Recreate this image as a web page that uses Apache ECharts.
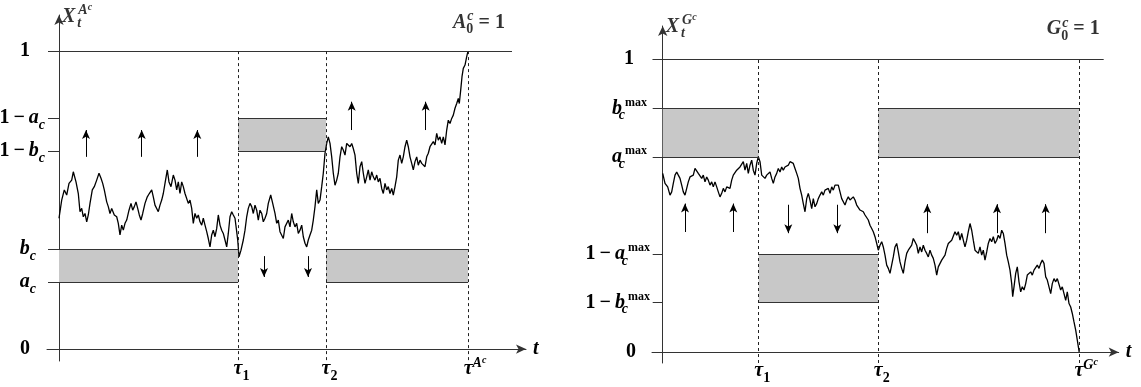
<!DOCTYPE html>
<html>
<head>
<meta charset="utf-8">
<script src="https://cdn.jsdelivr.net/npm/echarts@6/dist/echarts.min.js"></script>
<style>html,body{margin:0;background:#fff}#main{width:1141px;height:387px}</style>
</head>
<body>
<div id="main"></div>
<script>
var chart = echarts.init(document.getElementById('main'));

// band levels
var aC = 0.225, bC = 0.336;        // left: a_c, b_c
var aMax = 0.666, bMax = 0.831;    // right: a_c^max, b_c^max
// stopping times (tau1, tau2, tau^{A^c} / tau^{G^c})
var tauA = [179, 267, 409];
var tauG = [96, 215.5, 416.5];

// sample path of X^{A^c} [t, value]
var pathA = [[0,0.439],[2.7,0.500],[5.3,0.534],[7.7,0.517],[10,0.556],[12.7,0.567],[14.3,0.595],[16,0.590],[17,0.561],[19.3,0.522],[21,0.461],[22.7,0.472],[24.3,0.444],[26,0.455],[27.7,0.427],[29.3,0.450],[31,0.489],[33.3,0.534],[35.3,0.545],[37.7,0.567],[40,0.590],[42,0.573],[43.7,0.556],[45.3,0.534],[47.7,0.494],[49.3,0.478],[51,0.455],[52.7,0.472],[55.3,0.450],[57.7,0.444],[59.3,0.422],[61,0.383],[62.7,0.416],[64.3,0.399],[66,0.422],[67.7,0.433],[70,0.466],[72,0.489],[73.7,0.466],[75.3,0.478],[77,0.494],[78.7,0.472],[80.3,0.450],[82,0.433],[83.7,0.455],[86,0.489],[88.3,0.511],[90.3,0.522],[92.7,0.534],[94.3,0.511],[96,0.483],[97.7,0.489],[99.3,0.461],[101,0.483],[102.7,0.500],[104.3,0.522],[106,0.556],[108.3,0.601],[110,0.561],[112,0.545],[114.3,0.584],[116,0.567],[117.7,0.534],[119.3,0.561],[121,0.522],[122.7,0.561],[124.3,0.545],[126,0.522],[127.7,0.517],[129.3,0.489],[131,0.500],[132.7,0.472],[134.3,0.422],[136,0.455],[137.7,0.439],[139.3,0.450],[141,0.427],[142.7,0.416],[144.3,0.439],[146,0.416],[147.7,0.394],[149.3,0.371],[151,0.343],[152.7,0.383],[154.3,0.399],[156,0.377],[157.7,0.405],[159.3,0.450],[161,0.416],[162.7,0.399],[164.3,0.388],[166,0.366],[167.7,0.343],[169.3,0.388],[171,0.444],[172.7,0.461],[174.3,0.450],[176,0.439],[177.7,0.394],[178.7,0.366],[180,0.310],[182,0.332],[184.3,0.366],[186,0.399],[187.7,0.444],[189.3,0.472],[191,0.489],[192.7,0.478],[194.3,0.455],[196,0.483],[197.7,0.466],[199.3,0.433],[201,0.466],[202.7,0.455],[204.3,0.427],[206,0.439],[207.7,0.455],[209.3,0.489],[211.7,0.517],[213.7,0.489],[216,0.455],[217.7,0.422],[219.3,0.433],[221,0.394],[222.7,0.399],[224.3,0.371],[226,0.410],[227.7,0.416],[229.3,0.433],[231,0.410],[232.7,0.455],[234.3,0.427],[236,0.410],[237.7,0.422],[239.3,0.388],[241,0.399],[242.7,0.416],[244.3,0.377],[246,0.355],[247.7,0.343],[249.3,0.366],[251,0.383],[252.7,0.399],[254.3,0.433],[256,0.478],[257.7,0.534],[259.3,0.489],[261,0.500],[262.7,0.545],[264.3,0.590],[266,0.657],[267.7,0.690],[269.3,0.712],[271,0.690],[272.7,0.645],[274.3,0.590],[276,0.550],[277.7,0.567],[279.3,0.590],[281,0.645],[282.7,0.679],[284.3,0.668],[286,0.651],[287.7,0.690],[289.3,0.696],[291,0.679],[292.7,0.690],[294.3,0.673],[296,0.651],[297.7,0.590],[299.3,0.556],[301,0.612],[302.7,0.629],[304.3,0.590],[306,0.556],[307.7,0.578],[309.3,0.601],[311,0.567],[312.7,0.595],[314.3,0.578],[316,0.567],[317.7,0.584],[319.3,0.561],[321,0.573],[322.7,0.539],[324.3,0.522],[326,0.556],[327.7,0.534],[329.3,0.545],[331,0.522],[332.7,0.539],[334.3,0.517],[336,0.545],[337.7,0.578],[339.3,0.634],[341,0.651],[342.7,0.623],[344.3,0.645],[346,0.679],[347.7,0.701],[349.3,0.679],[351,0.645],[352.7,0.623],[354.3,0.601],[356,0.629],[357.7,0.645],[359.3,0.617],[361,0.634],[362.7,0.623],[364.3,0.629],[366,0.612],[367.7,0.645],[369.3,0.657],[371,0.679],[372.7,0.673],[374.3,0.696],[376,0.685],[377.7,0.724],[379.3,0.701],[381,0.712],[382.7,0.690],[384.3,0.712],[386,0.685],[387.7,0.735],[389.3,0.768],[391,0.757],[392.7,0.774],[394.3,0.785],[396,0.808],[397.7,0.824],[399.3,0.841],[400.3,0.824],[401.7,0.869],[403,0.914],[404.3,0.942],[406,0.953],[407.7,0.981],[409,1.0]];

// sample path of X^{G^c}
var pathG = [[0,0.610],[2.3,0.576],[5,0.564],[7.3,0.536],[9,0.547],[10.6,0.576],[12.3,0.604],[14,0.615],[15.6,0.604],[17.3,0.593],[19,0.570],[20.6,0.547],[22.3,0.536],[24,0.559],[25.6,0.581],[27.3,0.598],[29,0.593],[30.6,0.604],[32.3,0.627],[34,0.621],[35.6,0.610],[37.3,0.615],[39,0.593],[40.6,0.604],[42.3,0.581],[44,0.598],[45.6,0.587],[47.3,0.570],[49,0.581],[50.6,0.564],[52.3,0.581],[54,0.564],[55.6,0.547],[57.3,0.530],[59,0.542],[60.6,0.559],[62.3,0.547],[64,0.564],[65.6,0.570],[67.3,0.559],[69,0.587],[70.6,0.604],[72.3,0.598],[74,0.621],[75.6,0.615],[77.3,0.632],[79,0.627],[80.6,0.650],[82.3,0.621],[84,0.644],[85.6,0.610],[87.3,0.638],[89,0.655],[90.6,0.621],[92.3,0.604],[94,0.644],[95.6,0.667],[97.3,0.650],[99,0.604],[100.6,0.610],[102.3,0.593],[104,0.604],[105.6,0.598],[107.3,0.615],[109,0.593],[110.6,0.576],[112.3,0.598],[114,0.610],[115.6,0.627],[117.3,0.615],[119,0.632],[120.6,0.621],[122.3,0.632],[124,0.627],[125.6,0.638],[127.3,0.650],[129,0.655],[130.6,0.644],[132.3,0.627],[134,0.610],[135.6,0.593],[137.3,0.559],[139,0.536],[140.6,0.507],[142.3,0.479],[144,0.524],[145.6,0.542],[147.3,0.519],[149,0.490],[150.6,0.524],[152.3,0.496],[154,0.507],[155.6,0.524],[157.3,0.536],[159,0.547],[160.6,0.536],[162.3,0.553],[164,0.547],[165.6,0.559],[167.3,0.542],[169,0.564],[170.6,0.553],[172.3,0.570],[174,0.564],[175.6,0.570],[177.3,0.547],[179,0.524],[180.6,0.519],[182.3,0.502],[184,0.519],[185.6,0.530],[187.3,0.519],[189,0.524],[190.6,0.530],[192.3,0.519],[194,0.502],[195.6,0.496],[197.3,0.485],[199,0.490],[200.6,0.479],[202.3,0.468],[204,0.473],[205.6,0.451],[207.3,0.433],[209,0.422],[210.6,0.411],[212.3,0.394],[214,0.371],[215.6,0.348],[217.3,0.365],[219,0.377],[220.6,0.359],[222.3,0.331],[224,0.297],[225.6,0.286],[227.3,0.269],[229,0.274],[230.6,0.325],[232.3,0.359],[234,0.371],[235.6,0.342],[237.3,0.308],[239,0.286],[240.6,0.269],[242.3,0.308],[244,0.337],[245.6,0.348],[247.3,0.354],[249,0.365],[250.6,0.388],[252.3,0.377],[254,0.365],[255.6,0.337],[257.3,0.359],[259,0.342],[260.6,0.365],[262.3,0.348],[264,0.337],[265.6,0.325],[267.3,0.348],[269,0.331],[270.6,0.320],[272.3,0.297],[274,0.263],[275.6,0.291],[277.3,0.286],[279,0.314],[280.6,0.308],[282.3,0.331],[284,0.354],[285.6,0.371],[287.3,0.365],[289,0.382],[290.6,0.388],[292.3,0.411],[294,0.399],[295.6,0.411],[297.3,0.382],[299,0.405],[300.6,0.382],[302.3,0.359],[304,0.382],[305.6,0.411],[307.3,0.439],[309,0.416],[310.6,0.382],[312.3,0.348],[314,0.354],[315.6,0.337],[317.3,0.359],[319,0.331],[320.6,0.348],[322.3,0.314],[324,0.342],[325.6,0.371],[327.3,0.388],[329,0.377],[330.6,0.394],[332.3,0.371],[334,0.382],[335.6,0.399],[337.3,0.388],[339,0.416],[340.6,0.405],[342.3,0.371],[344,0.331],[345.6,0.308],[347.3,0.280],[349,0.234],[350,0.189],[351.3,0.223],[353,0.269],[354.6,0.291],[356.3,0.240],[358,0.206],[359.6,0.223],[361.3,0.212],[363,0.234],[364.6,0.263],[366.3,0.257],[368,0.274],[369.6,0.263],[371.3,0.280],[373,0.274],[374.6,0.297],[376.3,0.286],[378,0.303],[379.6,0.314],[381.3,0.303],[383,0.257],[384.6,0.246],[386.3,0.223],[388,0.200],[389.6,0.234],[391.3,0.251],[393,0.240],[394.6,0.251],[396.3,0.246],[398,0.212],[399.6,0.223],[401.3,0.200],[403,0.177],[404.6,0.206],[406.3,0.166],[408,0.154],[409.6,0.132],[411.3,0.103],[413,0.075],[414.6,0.041],[416.5,0]];

// shaded bands [t0, t1, low, high]
var boxesA = [[0, tauA[0], aC, bC], [tauA[0], tauA[1], 1 - bC, 1 - aC], [tauA[1], tauA[2], aC, bC]];
var boxesG = [[0, tauG[0], aMax, bMax], [tauG[0], tauG[1], 1 - bMax, 1 - aMax], [tauG[1], tauG[2], aMax, bMax]];

// drift arrows [t, from, to]
var arrowsA = [[27,0.645,0.735],[82.7,0.645,0.735],[138.3,0.645,0.735],[205,0.312,0.242],[249,0.312,0.242],[292.7,0.735,0.83],[366.7,0.735,0.83]];
var arrowsG = [[22.3,0.41,0.507],[70.6,0.41,0.507],[125.6,0.503,0.406],[174.6,0.503,0.406],[264.6,0.406,0.505],[334.3,0.406,0.505],[383,0.406,0.505]];

// y tick values and labels
var M = '1\u2009−\u2009';
var yTicksA = [0, aC, bC, 1 - bC, 1 - aC, 1];
var yLabelsA = ['{n|0}{g15| }', '{i|a}{sb|c}{g9| }', '{i|b}{sb|c}{g9| }', '{n|' + M + '}{i|b}{sb|c}', '{n|' + M + '}{i|a}{sb|c}', '{n|1}{g15| }'];
var yTicksG = [0, 1 - bMax, 1 - aMax, aMax, bMax, 1];
var yLabelsG = ['{n|0}{g14| }', '{n|' + M + '}{i|b}{sbw|c}{spm|max}', '{n|' + M + '}{i|a}{sbw|c}{spm|max}', '{i|a}{sbw|c}{spm|max}{g3| }', '{i|b}{sbw|c}{spm|max}{g3| }', '{n|1}{g16| }'];
var xLabelsA = ['{g7| }{i|τ}{sbn|1}', '{g7| }{i|τ}{sbn|2}', '{g14| }{i|τ}{sp|A}{spp|c}'];
var xLabelsG = ['{g7| }{i|τ}{sbn|1}', '{g7| }{i|τ}{sbn|2}', '{g14| }{i|τ}{sp|G}{spp|c}'];

// free texts
var notesA = [[3, 1.115, '{i|X}{sbw|t}{sp|A}{spp|c}'], [394, 1.096, '{i|A}{sbnw|0}{sp|c}{n| = 1}']];
var notesG = [[3, 1.111, '{i|X}{sbw|t}{sp|G}{spp|c}'], [384, 1.102, '{i|G}{sbnw|0}{sp|c}{n| = 1}']];

var F = '"Liberation Serif", "DejaVu Serif", serif';
var rich = {
    n: {fontFamily: F, fontSize: 20, fontWeight: 'bold', lineHeight: 28, color: '#000'},
    i: {fontFamily: F, fontSize: 20, fontWeight: 'bold', fontStyle: 'italic', lineHeight: 28, color: '#000'},
    sb: {fontFamily: F, fontSize: 14, fontWeight: 'bold', fontStyle: 'italic', lineHeight: 14, padding: [14, 0, 0, 0], color: '#000'},
    sbw: {fontFamily: F, fontSize: 14, fontWeight: 'bold', fontStyle: 'italic', lineHeight: 14, padding: [14, 0, 0, 2], width: 1, color: '#000'},
    sbn: {fontFamily: F, fontSize: 14, fontWeight: 'bold', lineHeight: 14, padding: [14, 0, 0, 0], color: '#000'},
    sbnw: {fontFamily: F, fontSize: 14, fontWeight: 'bold', lineHeight: 14, padding: [14, 0, 0, 0], width: 1, color: '#000'},
    sp: {fontFamily: F, fontSize: 14, fontWeight: 'bold', fontStyle: 'italic', lineHeight: 14, padding: [1, 0, 13, 0], color: '#000'},
    spp: {fontFamily: F, fontSize: 10, fontWeight: 'bold', fontStyle: 'italic', lineHeight: 10, padding: [0, 0, 18, 0], color: '#000'},
    spm: {fontFamily: F, fontSize: 12, fontWeight: 'bold', lineHeight: 12, padding: [2, 0, 14, 0], color: '#000'},
    g3: {width: 3}, g7: {width: 7}, g9: {width: 9}, g14: {width: 14},
    g15: {width: 15}, g16: {width: 16}
};

function pick(list, labels, v) {
    for (var k = 0; k < list.length; k++) {
        if (Math.abs(list[k] - v) < 1e-6) return labels[k];
    }
    return '';
}

function seg(t0, v0, t1, v1) {
    return [{coord: [t0, v0]}, {coord: [t1, v1]}];
}

function panel(idx, p) {
    var edges = [seg(-p.tick, 1, p.topEnd, 1)];
    p.boxes.forEach(function (b) {
        edges.push(seg(b[0], b[2], b[1], b[2]));
        edges.push(seg(b[0], b[3], b[1], b[3]));
    });
    var base = {xAxisIndex: idx, yAxisIndex: idx, silent: true};
    return [
        Object.assign({}, base, {
            type: 'line', z: 1, data: [],
            markArea: {silent: true, itemStyle: {color: '#c8c8c8'},
                data: p.boxes.map(function (b) { return [{coord: [b[0], b[2]]}, {coord: [b[1], b[3]]}]; })},
            markLine: {silent: true, symbol: ['none', 'none'], label: {show: false},
                lineStyle: {color: '#333', width: 1, type: 'solid'}, data: edges}
        }),
        Object.assign({}, base, {
            type: 'line', z: 2, data: [],
            markLine: {silent: true, symbol: ['none', 'none'], label: {show: false},
                lineStyle: {color: '#222', width: 1, type: [3, 3]},
                data: p.taus.map(function (t) { return seg(t, -0.037, t, 1); })}
        }),
        Object.assign({}, base, {
            type: 'line', z: 3, data: p.path, showSymbol: false, symbol: 'none',
            lineStyle: {color: '#000', width: 1.3}
        }),
        Object.assign({}, base, {
            type: 'line', z: 4, data: [],
            markLine: {silent: true, symbol: ['none', 'arrow'], symbolSize: [6, 9], label: {show: false},
                lineStyle: {color: '#000', width: 1, type: 'solid'},
                data: p.arrows.map(function (a) { return seg(a[0], a[1], a[0], a[2]); })}
        }),
        Object.assign({}, base, {
            type: 'scatter', z: 5, symbolSize: 0,
            data: p.notes.map(function (n) { return {value: [n[0], n[1]], name: n[2]}; }),
            label: {show: true, position: 'right', distance: 0, rich: rich,
                formatter: function (q) { return q.name; }}
        })
    ];
}

function xAxisOf(idx, p) {
    return {
        type: 'value', gridIndex: idx, min: p.xMin, max: p.xMax,
        name: 't', nameLocation: 'end', nameGap: 7,
        nameTextStyle: {fontFamily: F, fontSize: 20, fontWeight: 'bold', fontStyle: 'italic', color: '#000', padding: [0, 0, 8, 0]},
        axisLine: {onZero: true, symbol: ['none', 'arrow'], symbolSize: [7, 10], lineStyle: {color: '#333', width: 1}},
        axisTick: {show: false}, splitLine: {show: false},
        axisLabel: {customValues: p.taus, margin: -6, rich: rich,
            formatter: function (v) { return pick(p.taus, p.xLabels, v); }}
    };
}

function yAxisOf(idx, p) {
    return {
        type: 'value', gridIndex: idx, min: p.yMin, max: p.yMax,
        axisLine: {onZero: true, symbol: ['none', 'arrow'], symbolSize: [7, 10], lineStyle: {color: '#333', width: 1}},
        axisTick: {customValues: p.yTicks, length: p.tick, lineStyle: {color: '#333', width: 1}},
        splitLine: {show: false},
        axisLabel: {customValues: p.yTicks, margin: 2, rich: rich,
            formatter: function (v) { return pick(p.yTicks, p.yLabels, v); }}
    };
}

var left = {path: pathA, boxes: boxesA, taus: tauA, arrows: arrowsA, notes: notesA,
    yTicks: yTicksA, yLabels: yLabelsA, xLabels: xLabelsA, tick: 11, topEnd: 453,
    xMin: -12, xMax: 467, yMin: -0.04, yMax: 1.121};
var right = {path: pathG, boxes: boxesG, taus: tauG, arrows: arrowsG, notes: notesG,
    yTicks: yTicksG, yLabels: yLabelsG, xLabels: xLabelsG, tick: 10, topEnd: 441,
    xMin: -10.7, xMax: 456, yMin: -0.037, yMax: 1.113};

chart.setOption({
    animation: false,
    backgroundColor: '#fff',
    grid: [
        {left: 47, top: 15, width: 479, height: 346, containLabel: false, outerBoundsMode: 'none'},
        {left: 652, top: 26, width: 466.7, height: 337, containLabel: false, outerBoundsMode: 'none'}
    ],
    xAxis: [xAxisOf(0, left), xAxisOf(1, right)],
    yAxis: [yAxisOf(0, left), yAxisOf(1, right)],
    series: panel(0, left).concat(panel(1, right))
});
</script>
</body>
</html>
